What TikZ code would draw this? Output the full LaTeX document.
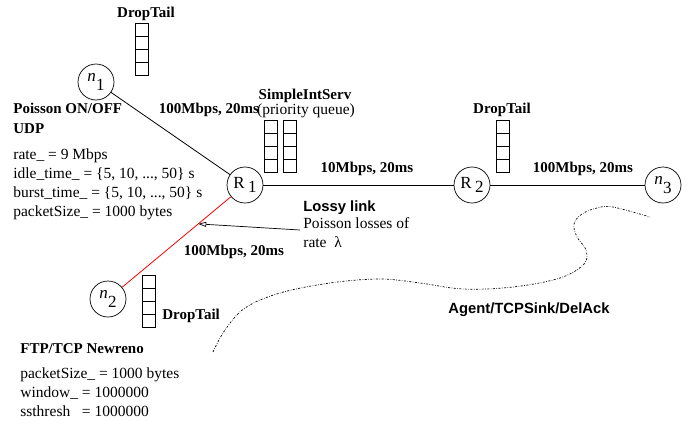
\documentclass[tikz,border=0pt]{standalone}
\usepackage{fontspec}
\setmainfont{Liberation Serif}
\setsansfont{Liberation Sans}
\usetikzlibrary{arrows.meta}

% labels inside the nodes
\newcommand{\hostlab}[1]{\raisebox{0.45ex}{\itshape n}\kern0.02em\raisebox{-0.75ex}{#1}}
\newcommand{\routerlab}[1]{R\kern0.2em\raisebox{-0.45ex}{#1}}
% a queue of 4 cells, top left corner at (#1,#2)
\newcommand{\dtqueue}[2]{\foreach \k in {0,...,3} \draw (#1,{#2+13*\k}) rectangle ++(13,13);}

\tikzset{
  host/.style={circle,draw,minimum size=36pt,inner sep=0pt,font=\fontsize{17}{17}\selectfont},
  lbl/.style={font=\fontsize{15}{20}\selectfont\bfseries,inner sep=0pt},
  txt/.style={font=\fontsize{15.5}{19}\selectfont,inner sep=0pt,align=left},
  sanslbl/.style={font=\sffamily\bfseries\fontsize{14.8}{19}\selectfont,inner sep=0pt},
  link/.style={line width=0.8pt},
  lossy/.style={link,red}
}

\begin{document}
\begin{tikzpicture}[x=1pt,y=-1pt,line width=0.7pt]
  \useasboundingbox (0,0) rectangle (697,426);

  % nodes
  \node[host] (n1) at (96,82) {\hostlab{1}};
  \node[host] (R1) at (245,185) {\routerlab{1}};
  \node[host] (R2) at (472,185) {\routerlab{2}};
  \node[host] (n3) at (663,185) {\hostlab{3}};
  \node[host] (n2) at (108,299) {\hostlab{2}};

  % links
  \draw[link] (n1) -- (R1);
  \draw[link] (R1) -- (R2);
  \draw[link] (R2) -- (n3);
  \draw[lossy] (R1) -- (n2) coordinate[pos=0.3] (hit);

  % queues
  \dtqueue{135}{23}
  \dtqueue{264}{120}
  \dtqueue{283}{120}
  \dtqueue{496}{120}
  \dtqueue{142}{275}

  % queue names
  \node[lbl,anchor=base] (dt1) at (146,17) {DropTail};
  \node[lbl,anchor=base] (sis) at (305,99) {SimpleIntServ};
  \node[txt,anchor=base] (prio) at (306,114) {(priority queue)};
  \node[lbl,anchor=base] (dt2) at (502,113) {DropTail};
  \node[lbl,anchor=base west] (dt3) at (162,319) {DropTail};

  % link labels
  \node[lbl,anchor=base] (l1) at (209,113) {100Mbps, 20ms};
  \node[lbl,anchor=base] (l2) at (367,172) {10Mbps, 20ms};
  \node[lbl,anchor=base] (l3) at (583,172) {100Mbps, 20ms};
  \node[lbl,anchor=base] (l4) at (234,255) {100Mbps, 20ms};

  % sources (base = last line)
  \node[lbl,align=left,anchor=base west] (udp) at (13,133) {Poisson ON/OFF\\UDP};
  \node[txt,anchor=base west] (udppar) at (13,216)
    {rate\_ = 9 Mbps\\idle\_time\_ = \{5, 10, ..., 50\} s\\burst\_time\_ = \{5, 10, ..., 50\} s\\packetSize\_ = 1000 bytes};
  \node[lbl,anchor=base west] (tcp) at (20,353) {FTP/TCP Newreno};
  \node[txt,anchor=base west] (tcppar) at (20,416)
    {packetSize\_ = 1000 bytes\\window\_ = 1000000\\ssthresh~~ = 1000000};

  % lossy link
  \node[sanslbl,anchor=base west] (lossy) at (303,211) {Lossy link};
  \node[txt,anchor=base west] (loss) at (303,247) {Poisson losses of\\rate~~λ};
  \coordinate (lossend) at (300,230);
  \draw[-{Triangle[open,length=8pt,width=5pt]}] (lossend) -- (hit);

  % sink
  \draw[dash pattern=on 2pt off 1.5pt on 0.6pt off 1.5pt] plot[smooth,tension=0.6] coordinates
    {(213,352) (225,330) (245,308) (280,293) (330,283) (380,279) (420,283) (463,289)
     (513,287) (560,278) (584,264) (586,250) (577,237) (574,224) (582,214) (597,208) (613,207) (650,217)};
  \node[sanslbl,anchor=base] (sink) at (529,313) {Agent/TCPSink/DelAck};
\end{tikzpicture}
\end{document}
